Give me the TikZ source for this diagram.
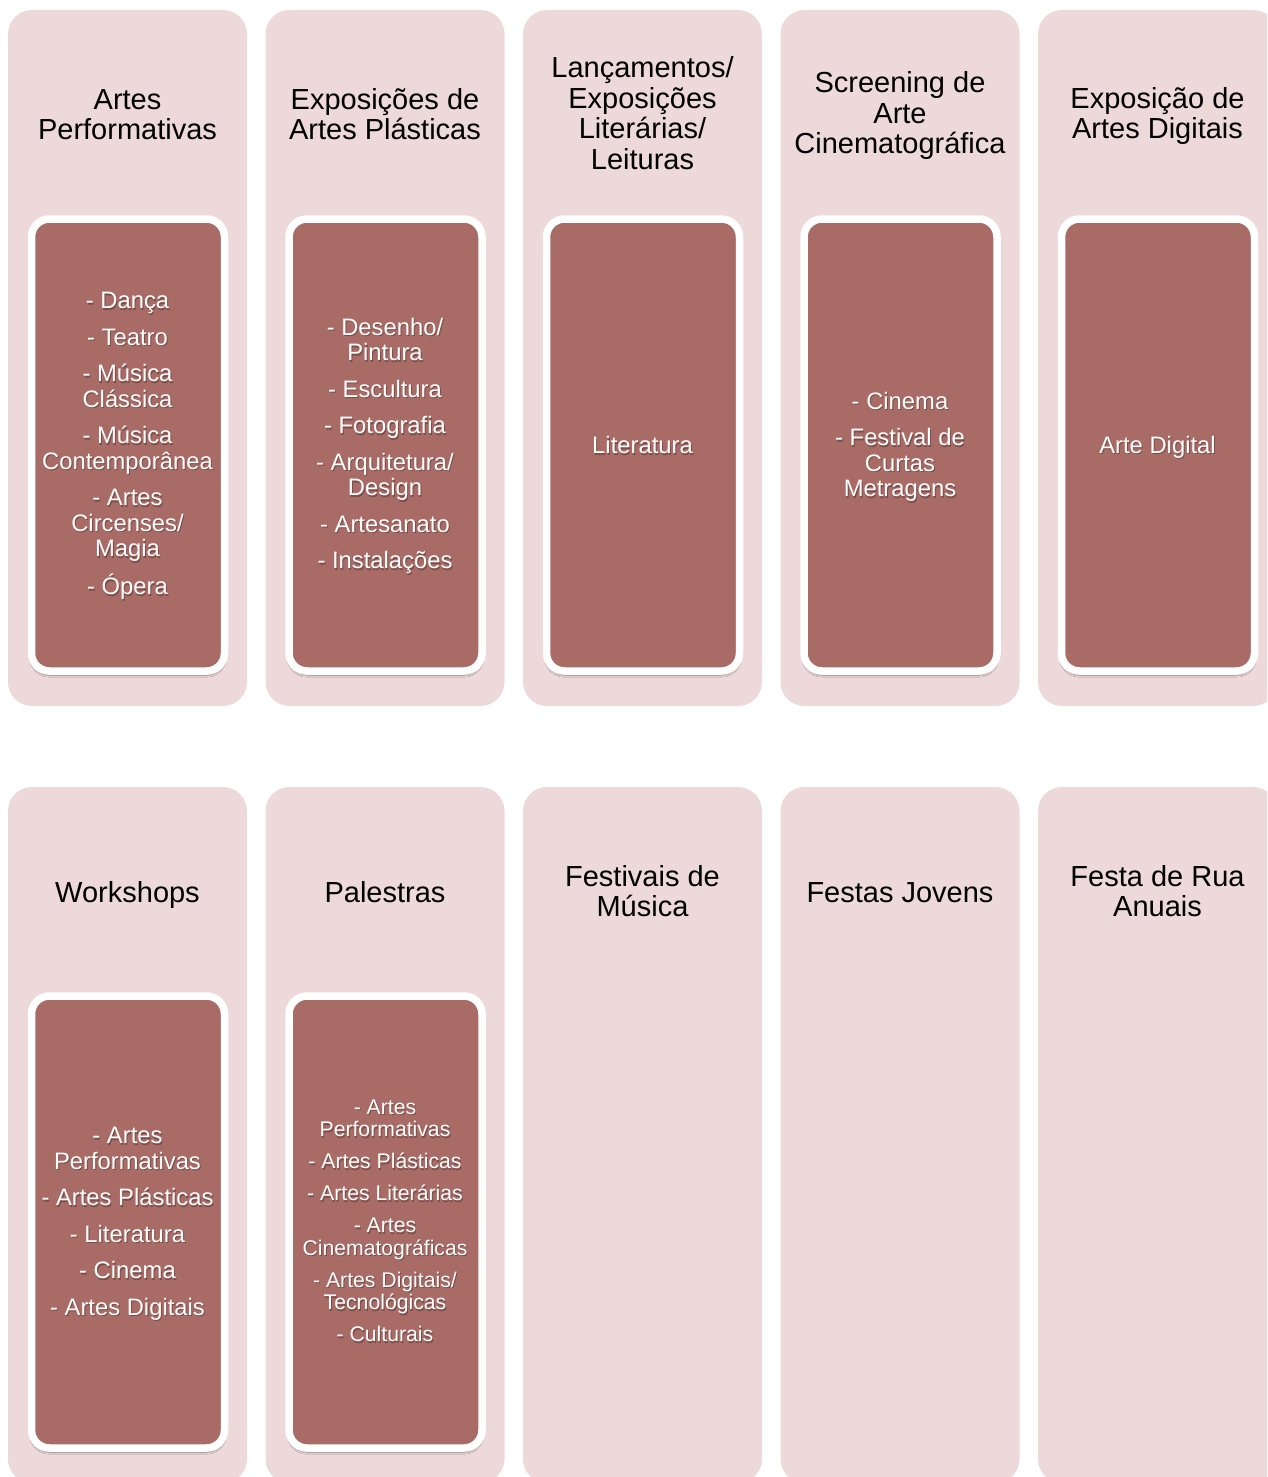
\documentclass[tikz,border=0pt]{standalone}
\usepackage{fontspec}
\setmainfont{Liberation Sans}
\usetikzlibrary{shadows.blur}
\definecolor{panelpink}{HTML}{EDD8DA}
\definecolor{itembrown}{HTML}{A96B66}
% white item text with a soft dark drop shadow beneath it
\newcommand\cardtext[4]{%
  \node[#3, text=black, opacity=0.28, xshift=1pt, yshift=-1.5pt] (#1-sh) at (#2) {#4};
  \node[#3] (#1) at (#2) {#4};
}
\begin{document}
\begin{tikzpicture}[x=1pt,y=-1pt,
  panel/.style={fill=panelpink, draw=none, rounded corners=24pt},
  card/.style={fill=itembrown, draw=white, line width=7.5pt, rounded corners=18pt,
    blur shadow={shadow xshift=0pt, shadow yshift=-4pt, shadow blur steps=6, shadow opacity=45}},
  title/.style={font=\fontsize{29}{30.5}\selectfont, align=center, text=black, inner sep=0pt},
  items/.style={font=\fontsize{23.8}{25.5}\selectfont, align=center, text=white, inner sep=0pt},
  smallitems/.style={font=\fontsize{21.2}{22.5}\selectfont, align=center, text=white, inner sep=0pt},
]
\useasboundingbox (0,0) rectangle (1267,1477);
\clip (0,0) rectangle (1267,1477);

% ---- column panels, two rows of five ----
\foreach \x in {8,265.5,523,780.5,1038}{
  \fill[panel] (\x,10) rectangle ++(239,696);
  \fill[panel] (\x,787) rectangle ++(239,696);
}

% ---- item cards ----
\foreach \x in {8,265.5,523,780.5,1038}{
  \draw[card] (\x+23.5,219) rectangle (\x+216.5,671);
}
\foreach \x in {8,265.5}{
  \draw[card] (\x+23.5,996) rectangle (\x+216.5,1448);
}

% ---- row 1 titles ----
\node[title] (t1) at (127.5,114.5) {Artes\\Performativas};
\node[title] (t2) at (385,114) {Exposições de\\Artes Plásticas};
\node[title] (t3) at (642.5,113) {Lançamentos/\\Exposições\\Literárias/\\Leituras};
\node[title] (t4) at (900,116) {Screening de\\Arte\\Cinematográfica};
\node[title] (t5) at (1157.5,116) {Exposição de\\Artes Digitais};

% ---- row 2 titles ----
\node[title] (t6) at (127.5,895) {Workshops};
\node[title] (t7) at (385,892) {Palestras};
\node[title] (t8) at (642.5,891) {Festivais de\\Música};
\node[title] (t9) at (900,893) {Festas Jovens};
\node[title] (t10) at (1157.5,891) {Festa de Rua\\Anuais};

% ---- card contents ----
\cardtext{c1}{127.5,446}{items}{- Dança\\[11pt]- Teatro\\[11pt]- Música\\Clássica\\[11pt]- Música\\Contemporânea\\[11pt]- Artes\\Circenses/\\Magia\\[11pt]- Ópera}
\cardtext{c2}{385,446}{items}{- Desenho/\\Pintura\\[11pt]- Escultura\\[11pt]- Fotografia\\[11pt]- Arquitetura/\\Design\\[11pt]- Artesanato\\[11pt]- Instalações}
\cardtext{c3}{642.5,445}{items}{Literatura}
\cardtext{c4}{900,447}{items}{- Cinema\\[11pt]- Festival de\\Curtas\\Metragens}
\cardtext{c5}{1157.5,447}{items}{Arte Digital}
\cardtext{c6}{127.5,1224}{items}{- Artes\\Performativas\\[11pt]- Artes Plásticas\\[11pt]- Literatura\\[11pt]- Cinema\\[11pt]- Artes Digitais}
\cardtext{c7}{385,1221}{smallitems}{- Artes\\Performativas\\[9.5pt]- Artes Plásticas\\[9.5pt]- Artes Literárias\\[9.5pt]- Artes\\Cinematográficas\\[9.5pt]- Artes Digitais/\\Tecnológicas\\[9.5pt]- Culturais}
\end{tikzpicture}
\end{document}
